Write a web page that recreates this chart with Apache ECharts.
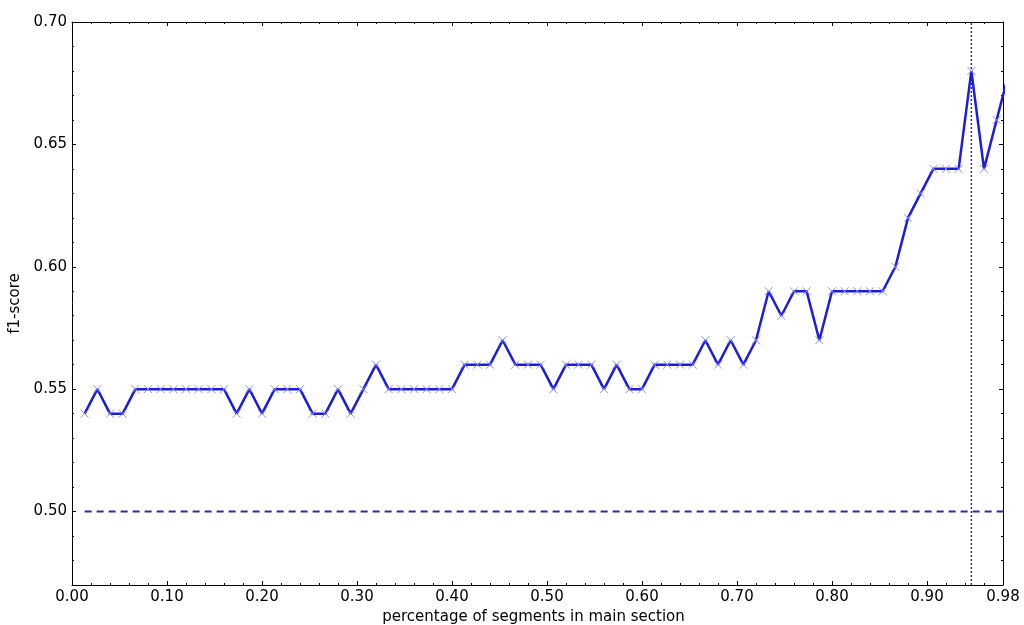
<!DOCTYPE html>
<html>
<head>
<meta charset="utf-8">
<script src="https://cdn.jsdelivr.net/npm/echarts@6/dist/echarts.min.js"></script>
<style>html,body{margin:0;padding:0;background:#fff;}#c{width:1024px;height:625px;}</style>
</head>
<body>
<div id="c"></div>
<script>
// x: percentage of segments in main section
const xValues = [0.0133,0.0267,0.0400,0.0533,0.0667,0.0800,0.0933,0.1067,0.1200,0.1333,
  0.1467,0.1600,0.1733,0.1867,0.2000,0.2133,0.2267,0.2400,0.2533,0.2667,
  0.2800,0.2933,0.3067,0.3200,0.3333,0.3467,0.3600,0.3733,0.3867,0.4000,
  0.4133,0.4267,0.4400,0.4533,0.4667,0.4800,0.4933,0.5067,0.5200,0.5333,
  0.5467,0.5600,0.5733,0.5867,0.6000,0.6133,0.6267,0.6400,0.6533,0.6667,
  0.6800,0.6933,0.7067,0.7200,0.7333,0.7467,0.7600,0.7733,0.7867,0.8000,
  0.8133,0.8267,0.8400,0.8533,0.8667,0.8800,0.8933,0.9067,0.9200,0.9333,
  0.9467,0.9600,0.9733,0.9867];
// f1-score
const f1Scores = [0.54,0.55,0.54,0.54,0.55,0.55,0.55,0.55,0.55,0.55,
  0.55,0.55,0.54,0.55,0.54,0.55,0.55,0.55,0.54,0.54,
  0.55,0.54,0.55,0.56,0.55,0.55,0.55,0.55,0.55,0.55,
  0.56,0.56,0.56,0.57,0.56,0.56,0.56,0.55,0.56,0.56,
  0.56,0.55,0.56,0.55,0.55,0.56,0.56,0.56,0.56,0.57,
  0.56,0.57,0.56,0.57,0.59,0.58,0.59,0.59,0.57,0.59,
  0.59,0.59,0.59,0.59,0.60,0.62,0.63,0.64,0.64,0.64,
  0.68,0.64,0.66,0.68];
const baseline = 0.50;
const xMajorTicks = [0.00,0.10,0.20,0.30,0.40,0.50,0.60,0.70,0.80,0.90,0.98];
const xMinorTicks = [0.02,0.04,0.06,0.08,0.12,0.14,0.16,0.18,0.22,0.24,0.26,0.28,
  0.32,0.34,0.36,0.38,0.42,0.44,0.46,0.48,0.52,0.54,0.56,0.58,0.62,0.64,0.66,0.68,
  0.72,0.74,0.76,0.78,0.82,0.84,0.86,0.88,0.92,0.94,0.96];
const yMajorTicks = [0.50,0.55,0.60,0.65,0.70];
const yMinorTicks = [0.47,0.48,0.49,0.51,0.52,0.53,0.54,0.56,0.57,0.58,0.59,
  0.61,0.62,0.63,0.64,0.66,0.67,0.68,0.69];

let bestIdx = 0;
f1Scores.forEach((v, i) => { if (v > f1Scores[bestIdx]) bestIdx = i; });
const bestX = xValues[bestIdx];
const seriesData = xValues.map((x, i) => [x, f1Scores[i]]);

const FONT = 'DejaVu Sans';
const X_MIN = 0, X_MAX = 0.98, Y_MIN = 0.47, Y_MAX = 0.70;
const baselineData = [[xValues[0], baseline], [xValues[xValues.length - 1], baseline]];
const bestLineData = [[bestX, Y_MIN], [bestX, Y_MAX]];

function xAx(pos, ticks, len, main) {
  return {
    type: 'value', position: pos, min: X_MIN, max: X_MAX,
    axisLine: { show: main, onZero: false, lineStyle: { color: '#000', width: 1 } },
    axisTick: { show: true, inside: true, length: len, customValues: ticks, lineStyle: { color: '#000', width: 1 } },
    axisLabel: (main && pos === 'bottom') ? {
      show: true, customValues: xMajorTicks, margin: 5,
      fontFamily: FONT, fontSize: 15, color: '#000',
      formatter: v => Number(v).toFixed(2)
    } : { show: false },
    splitLine: { show: false },
    name: (main && pos === 'bottom') ? 'percentage of segments in main section' : '',
    nameLocation: 'middle', nameGap: 22,
    nameTextStyle: { fontFamily: FONT, fontSize: 15, color: '#000', padding: [0, 8, 0, 0] }
  };
}
function yAx(pos, ticks, len, main) {
  return {
    type: 'value', position: pos, min: Y_MIN, max: Y_MAX,
    axisLine: { show: main, onZero: false, lineStyle: { color: '#000', width: 1 } },
    axisTick: { show: true, inside: true, length: len, customValues: ticks, lineStyle: { color: '#000', width: 1 } },
    axisLabel: (main && pos === 'left') ? {
      show: true, customValues: yMajorTicks, margin: 5,
      fontFamily: FONT, fontSize: 15, color: '#000',
      formatter: v => Number(v).toFixed(2)
    } : { show: false },
    splitLine: { show: false },
    name: (main && pos === 'left') ? 'f1-score' : '',
    nameLocation: 'middle', nameGap: 44,
    nameTextStyle: { fontFamily: FONT, fontSize: 15, color: '#000' }
  };
}

const chart = echarts.init(document.getElementById('c'));
chart.setOption({
  animation: false,
  backgroundColor: '#fff',
  grid: { left: 72, right: 21, top: 22, bottom: 40, outerBoundsMode: 'none', containLabel: false },
  xAxis: [
    xAx('bottom', xMajorTicks, 4, true),
    xAx('bottom', xMinorTicks, 2, false),
    xAx('top', xMajorTicks, 4, true),
    xAx('top', xMinorTicks, 2, false)
  ],
  yAxis: [
    yAx('left', yMajorTicks, 4, true),
    yAx('left', yMinorTicks, 2, false),
    yAx('right', yMajorTicks, 4, true),
    yAx('right', yMinorTicks, 2, false)
  ],
  series: [
    {
      type: 'line', name: 'baseline',
      xAxisIndex: 0, yAxisIndex: 0,
      data: baselineData, clip: true,
      symbol: 'none', silent: true,
      lineStyle: { color: '#2a2aa8', width: 2, type: [7, 5] },
      z: 2
    },
    {
      type: 'line', name: 'best',
      xAxisIndex: 0, yAxisIndex: 0,
      data: bestLineData, clip: true,
      symbol: 'none', silent: true,
      lineStyle: { color: '#2a2aa8', width: 1.5, type: [2, 2] },
      z: 2
    },
    {
      type: 'line', name: 'f1',
      xAxisIndex: 0, yAxisIndex: 0,
      data: seriesData,
      clip: true,
      symbol: 'path://M0,0L10,10M0,10L10,0',
      symbolSize: 8,
      showAllSymbol: true,
      lineStyle: { color: '#1c1cdc', width: 2.5 },
      itemStyle: { color: 'rgba(0,0,0,0)', borderColor: '#8c8cff', borderWidth: 1 },
      z: 3
    }
  ]
});
</script>
</body>
</html>
